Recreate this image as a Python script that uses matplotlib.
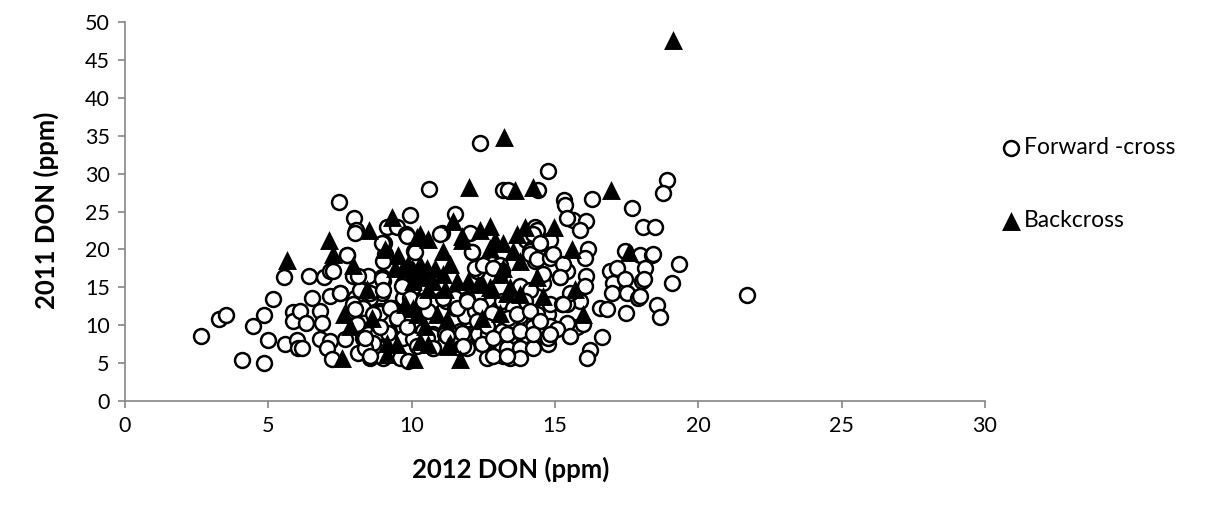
import matplotlib.pyplot as plt
import numpy as np

plt.rcParams["font.family"] = ["Lato", "DejaVu Sans"]

# Forward-cross (open circles): 2012 DON, 2011 DON
fwd_x = [2.65, 3.28, 3.52, 4.08, 4.85, 4.47, 4.85, 5.0, 5.16, 5.55, 5.58, 5.86, 5.86, 6.0, 6.03,
         7.46, 7.99, 8.06, 9.94, 9.14, 9.49, 9.8, 7.74, 6.42, 6.94, 7.15, 7.95, 8.2, 8.48, 8.96,
         8.96, 9.03, 9.07, 9.77, 10.05, 6.52, 7.15, 7.5, 6.1, 6.31, 6.8, 6.87, 6.17, 6.8, 7.15,
         7.05, 7.67, 7.22, 7.95, 8.27, 8.55, 8.37, 8.79, 8.9, 8.13, 8.55, 8.9, 9.24, 9.52, 9.84,
         8.02, 8.2, 8.55,
         12.38, 10.6, 13.2, 13.36, 11.5, 11.06, 14.3, 14.0, 14.2, 12.1, 12.28, 12.56, 12.8, 13.08,
         10.1, 10.4, 11.2, 11.5, 11.86, 12.38, 12.73, 13.0, 10.05, 10.4, 10.74, 11.68, 12.03,
         12.73, 13.32, 13.88, 14.23, 10.74, 11.68, 12.84, 13.18, 13.67, 12.63, 13.53,
         14.75, 14.4, 15.3, 16.3, 17.7, 18.9, 18.77, 15.63, 16.1, 15.87, 18.07, 18.49, 14.37,
         14.54, 14.9, 14.13, 14.3, 16.15, 16.04, 17.44, 17.96, 18.38, 18.14, 18.03, 16.92, 17.16,
         17.02, 17.44, 16.99, 17.5, 17.9, 15.17, 14.58, 16.1, 16.04, 15.87, 15.42, 14.48, 14.75,
         16.57, 16.81, 17.47, 18.56, 18.66, 14.4, 14.82, 14.75, 15.52, 15.77, 15.97, 16.64,
         16.22, 16.11,
         18.42, 18.1, 17.96, 19.32, 19.08, 21.7,
         9.0, 9.0, 9.7, 9.7, 10.22, 7.95, 8.3, 8.9, 9.31, 9.49, 9.84, 8.09, 8.48, 8.83, 9.17,
         9.7, 8.3, 8.65, 8.37, 9.7, 10.05, 10.18, 9.0, 9.59, 9.87,
         12.2, 13.15, 10.7, 11.5, 11.93, 13.15, 10.57, 11.86, 12.2, 12.8, 10.7, 11.16, 11.86,
         12.31, 12.66, 13.15, 11.93, 12.45, 13.15,
         14.82, 15.35, 15.42, 14.13, 14.37, 14.82, 15.42, 13.78, 14.13, 13.95, 14.82, 15.24,
         13.53, 13.36, 13.78, 14.37, 15.42, 14.82, 15.07, 13.88, 13.32, 13.78, 14.23, 14.75,
         13.43, 13.78,
         8.02, 9.84, 10.99, 12.03, 14.23, 8.96, 10.12, 12.1, 14.48, 14.93, 15.28,
         7.74, 7.26, 8.13, 8.96, 9.0, 9.66, 12.49, 12.84, 14.58, 15.17, 15.52, 15.28,
         7.5, 8.02, 8.65, 9.24, 8.9, 8.37, 8.55, 9.94, 10.4, 11.09, 11.58, 11.93, 12.38, 12.8,
         9.49, 9.84, 10.53, 10.74, 11.23, 11.75, 11.79, 12.28, 12.63,
         12.84, 13.32, 13.67, 14.13, 14.48, 13.78, 14.23, 14.82, 15.52, 12.84, 13.32]
fwd_y = [8.6, 10.8, 11.4, 5.4, 5.0, 9.9, 11.4, 8.1, 13.5, 16.3, 7.5, 11.8, 10.6, 8.1, 7.0,
         26.3, 24.1, 22.6, 24.5, 22.9, 23.0, 22.0, 19.3, 16.5, 16.3, 17.1, 16.5, 16.4, 16.5, 16.3,
         14.3, 20.8, 19.4, 15.0, 15.0, 13.6, 13.9, 14.2, 11.9, 10.3, 11.9, 10.3, 7.0, 8.2, 7.9,
         7.0, 8.2, 5.6, 11.9, 12.8, 13.6, 8.2, 8.3, 7.0, 6.3, 5.7, 11.9, 12.3, 10.6, 9.5,
         13.6, 14.6, 14.3,
         34.0, 28.0, 27.9, 27.8, 24.7, 22.2, 22.9, 21.2, 20.2, 19.6, 17.2, 17.9, 18.1, 17.9,
         19.8, 13.2, 13.2, 12.3, 13.2, 12.6, 12.8, 12.2, 10.6, 9.3, 8.9, 9.3, 8.9,
         9.3, 8.9, 8.9, 9.7, 7.0, 7.0, 6.2, 6.0, 6.9, 5.7, 6.2,
         30.3, 27.8, 26.5, 26.6, 25.5, 29.2, 27.4, 23.9, 23.8, 22.5, 23.0, 22.9, 22.5,
         20.9, 19.4, 19.8, 18.5, 20.1, 18.9, 19.8, 19.2, 19.2, 17.5, 15.9, 17.2, 17.5,
         15.6, 16.1, 14.2, 14.3, 13.6, 16.3, 15.6, 16.5, 15.2, 13.2, 12.8, 11.9, 11.5,
         12.3, 12.2, 11.6, 12.7, 11.1, 8.9, 8.9, 7.5, 8.6, 9.7, 10.2, 8.5,
         6.7, 5.7,
         19.4, 16.1, 13.9, 18.1, 15.6, 14.0,
         18.5, 15.9, 15.5, 13.6, 13.2, 12.8, 12.3, 11.6, 12.3, 11.0, 10.6, 10.2, 8.9, 9.0, 9.0,
         9.7, 8.3, 7.7, 7.0, 8.3, 8.2, 7.3, 5.7, 5.7, 5.3,
         17.6, 17.2, 13.2, 13.6, 13.5, 13.2, 11.9, 11.2, 11.9, 10.6, 8.6, 8.9, 8.9,
         8.9, 8.9, 9.3, 7.0, 7.5, 7.0,
         21.2, 25.8, 24.1, 19.4, 18.8, 18.9, 17.2, 15.2, 14.6, 13.2, 12.8, 12.8,
         12.3, 11.0, 11.2, 11.5, 10.3, 9.9, 9.5, 8.6, 7.0, 7.0, 7.0, 8.3,
         5.7, 5.7,
         22.2, 21.8, 22.1, 22.2, 22.1, 20.8, 19.6, 19.6, 20.9, 19.4, 18.1,
         19.2, 17.2, 16.5, 16.1, 14.6, 15.2, 17.9, 17.6, 16.8, 16.3, 14.2, 12.8,
         14.2, 12.2, 11.5, 12.3, 9.7, 8.3, 6.0, 13.6, 13.2, 13.6, 12.3, 13.2, 12.6, 11.6,
         11.0, 9.7, 8.3, 7.0, 8.6, 9.0, 7.3, 10.6, 9.9,
         8.3, 8.9, 11.5, 11.9, 10.6, 9.3, 8.9, 8.9, 8.6, 6.0, 6.0]

# Backcross (filled triangles)
back_x = [5.65, 8.51, 9.31, 7.12, 7.26, 7.95, 8.44, 9.07, 9.52, 9.7, 10.0, 10.05, 7.64, 7.85,
          7.57, 9.14, 9.14, 9.49, 10.1, 9.77, 8.62, 13.22, 12.0, 13.6, 14.23, 11.44, 10.3, 10.57,
          11.75, 12.38, 12.73, 12.9, 12.73, 13.67, 13.95, 11.1, 11.34, 11.1, 10.3, 10.46, 10.74,
          10.18, 13.08, 12.45, 12.73, 13.43, 13.78, 11.58, 10.05, 10.88, 11.23, 13.08, 10.3,
          11.27, 11.68, 14.96, 15.6, 17.58, 14.37, 14.58, 15.7, 15.97, 16.95, 19.11,
          9.87, 9.42, 10.1, 10.53, 10.18, 10.46, 10.57,
          11.75, 10.8, 11.96, 12.31, 10.57, 11.16, 12.8, 12.45, 11.34,
          13.18, 13.53, 13.78, 13.18, 13.32]
back_y = [18.6, 22.6, 24.3, 21.3, 19.4, 18.0, 14.8, 20.1, 19.2, 17.6, 17.6, 15.9, 11.5, 9.9,
          5.7, 6.2, 7.7, 7.5, 5.6, 12.8, 11.0, 34.8, 28.3, 27.8, 28.2, 23.8, 22.1, 21.4,
          21.8, 22.5, 23.1, 21.2, 20.2, 22.1, 22.9, 19.8, 18.1, 16.8, 18.1, 16.3, 15.9,
          21.6, 16.8, 15.6, 15.0, 15.0, 14.1, 15.9, 12.3, 11.5, 10.8, 11.6, 7.9,
          7.3, 5.6, 22.9, 20.1, 19.6, 16.3, 13.9, 14.8, 11.5, 27.8, 47.6,
          18.1, 17.5, 17.2, 17.6, 11.5, 9.9, 7.5,
          21.2, 17.6, 15.9, 15.5, 14.8, 14.8, 14.8, 11.0, 7.7,
          20.8, 19.8, 18.5, 17.6, 14.2]

fig = plt.figure(figsize=(12.25, 5.08), dpi=100)
ax = fig.add_axes([0.102, 0.2106, 0.702, 0.746])

ax.scatter(fwd_x, fwd_y, s=115, marker='o', facecolor='white', edgecolor='black',
           linewidth=1.8, label='Forward -cross', zorder=2)
ax.scatter(back_x, back_y, s=185, marker='^', color='black', linewidth=0,
           label='Backcross', zorder=3)

ax.set_xlim(0, 30)
ax.set_ylim(0, 50)
ax.set_xticks(np.arange(0, 31, 5))
ax.set_yticks(np.arange(0, 51, 5))

for side in ['top', 'right']:
    ax.spines[side].set_visible(False)
for side in ['left', 'bottom']:
    ax.spines[side].set_color('#868686')
    ax.spines[side].set_linewidth(1.2)
ax.tick_params(direction='out', length=5, width=1.2, color='#868686',
               labelsize=15.5, labelcolor='black', pad=6)

ax.set_xlabel('2012 DON (ppm)', fontsize=18.5, fontweight='bold')
ax.set_ylabel('2011 DON (ppm)', fontsize=18.5, fontweight='bold')
ax.xaxis.set_label_coords(0.449, -0.148)
ax.yaxis.set_label_coords(-0.077, 0.504)

ax.legend(loc='upper left', bbox_to_anchor=(0.807, 0.753), bbox_transform=fig.transFigure,
          frameon=False, fontsize=16.5, labelspacing=2.28, handletextpad=0.05,
          handlelength=1.0, borderpad=0)

fig.savefig('out.png', dpi=100)
